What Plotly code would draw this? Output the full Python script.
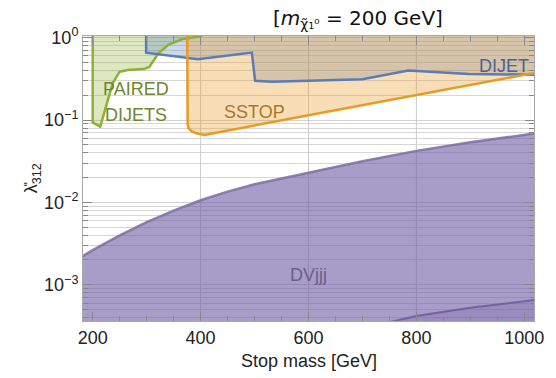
import math
import plotly.graph_objects as go

# ---------------- data (stop mass [GeV], lambda''_312) ----------------
dv_mass = [175, 182, 200, 250, 300, 350, 400, 450, 500, 600, 700, 800, 900, 1018, 1025]
dv_lam = [0.00209, 0.00224, 0.00263, 0.00398, 0.00575, 0.00794, 0.0106, 0.0135,
          0.0166, 0.0229, 0.0316, 0.0422, 0.0537, 0.0684, 0.0692]

dv2_mass = [740, 800, 900, 1025]
dv2_lam = [0.000339, 0.000417, 0.000525, 0.00066]

pd_mass = [200, 200, 214, 225, 237, 250, 265, 295, 305, 322, 340, 365, 400, 430]
pd_lam = [1.5, 0.093, 0.083, 0.146, 0.28, 0.386, 0.405, 0.415, 0.44, 0.65, 0.82, 0.955, 1.04, 1.5]

dj_mass = [299, 299, 395, 495, 501, 533, 700, 785, 897, 1025]
dj_lam = [1.5, 0.658, 0.547, 0.658, 0.30, 0.292, 0.313, 0.398, 0.363, 0.355]

ss_mass = [375, 375, 376, 378, 383, 392, 407, 600, 800, 1025]
ss_lam = [1.5, 0.105, 0.088, 0.079, 0.073, 0.069, 0.066, 0.114, 0.201, 0.38]

labels = ["PAIRED", "DIJETS", "SSTOP", "DIJET", "DVjjj"]
label_mass = [280, 281, 499, 962, 600]
label_lam = [0.238, 0.115, 0.126, 0.454, 0.00132]
label_color = ["#6e872d", "#6e872d", "#a87828", "#466496", "#695f8c"]

x_ticks = [200, 400, 600, 800, 1000]
x_grid = [400, 600, 800]
y_ticks = [1e-3, 1e-2, 1e-1, 1]
y_ticktext = ["10<sup>\u22123</sup>", "10<sup>\u22122</sup>", "10<sup>\u22121</sup>", "10<sup>0</sup>"]
y_minor = [m * 10.0 ** k for k in range(-4, 1) for m in range(2, 10)]

X_RANGE = [182, 1018]
Y_RANGE = [-3.44, 0.02]
LOW, HIGH = 1e-5, 1.5

fig = go.Figure()

# DVjjj (purple) fill + boundary
fig.add_trace(go.Scatter(x=dv_mass + [dv_mass[-1], dv_mass[0]], y=dv_lam + [LOW, LOW],
                         fill="toself", fillcolor="rgba(110,90,165,0.6)", line=dict(width=0),
                         mode="lines", hoverinfo="skip", showlegend=False))
fig.add_trace(go.Scatter(x=dv_mass, y=dv_lam, mode="lines",
                         line=dict(color="rgba(125,110,160,0.85)", width=2.5), showlegend=False))
fig.add_trace(go.Scatter(x=dv2_mass + [dv2_mass[-1], dv2_mass[0]], y=dv2_lam + [LOW, LOW],
                         fill="toself", fillcolor="rgba(110,90,165,0.25)", line=dict(width=0),
                         mode="lines", hoverinfo="skip", showlegend=False))
fig.add_trace(go.Scatter(x=dv2_mass, y=dv2_lam, mode="lines",
                         line=dict(color="rgba(110,95,150,0.9)", width=2), showlegend=False))

# fills for collider limits
def region(xs, ys, color):
    fig.add_trace(go.Scatter(x=xs + [xs[-1], xs[0]], y=ys + [HIGH, HIGH], fill="toself",
                             fillcolor=color, line=dict(width=0), mode="lines",
                             hoverinfo="skip", showlegend=False))

region(pd_mass, pd_lam, "rgba(143,176,50,0.3)")
region(dj_mass, dj_lam, "rgba(90,125,185,0.3)")
region(ss_mass, ss_lam, "rgba(232,155,35,0.33)")

for xs, ys, c in [(pd_mass, pd_lam, "#8fb032"), (dj_mass, dj_lam, "#5a7db9"), (ss_mass, ss_lam, "#e89b23")]:
    fig.add_trace(go.Scatter(x=xs, y=ys, mode="lines", line=dict(color=c, width=2.5),
                             showlegend=False))

for gx in x_grid:
    fig.add_shape(type="line", xref="x", yref="paper", x0=gx, x1=gx, y0=0, y1=1,
                  line=dict(color="rgba(190,190,190,0.8)", width=1), layer="below")

for t, mx, ly, c in zip(labels, label_mass, label_lam, label_color):
    fig.add_annotation(x=mx, y=math.log10(ly), text=t, showarrow=False,
                       font=dict(family="Liberation Sans", size=18, color=c))

fig.add_annotation(xref="paper", yref="paper", x=(18 - 83) / 460, y=0.5,
                   text="\u03bb\u030e<sub>312</sub>", textangle=-90, showarrow=False,
                   font=dict(family="Liberation Sans", size=18, color="#222"))
fig.add_annotation(xref="paper", yref="paper", x=0.5, y=(321 - 361) / 285,
                   text="Stop mass [GeV]", showarrow=False, yanchor="middle",
                   font=dict(family="Liberation Sans", size=18, color="#222"))
fig.add_annotation(xref="paper", yref="paper", x=(363 - 83) / 460, y=1 + (36 - 19) / 285,
                   text="[<i>m</i><sub>\u03c7\u0303\u2081\u2070</sub> = 200 GeV]", showarrow=False,
                   yanchor="middle", font=dict(family="DejaVu Sans", size=20, color="#111"))

axis_common = dict(showline=True, linecolor="#a8a8a8", linewidth=1, mirror="allticks",
                   ticks="inside", tickcolor="#888", tickwidth=1, zeroline=False,
                   tickfont=dict(family="Liberation Sans", size=18, color="#222"))

fig.update_xaxes(range=X_RANGE, tickvals=x_ticks, ticklen=9, showgrid=False,
                 minor=dict(dtick=50, ticks="inside", ticklen=5, tickcolor="#888", showgrid=False),
                 **axis_common)
fig.update_yaxes(type="log", range=Y_RANGE, tickvals=y_ticks, ticktext=y_ticktext, ticklen=9,
                 showgrid=True, gridcolor="rgba(200,200,200,0.8)", gridwidth=1,
                 minor=dict(tickmode="array", tickvals=y_minor, ticks="inside", ticklen=5,
                            tickcolor="#888", showgrid=True, gridcolor="rgba(205,205,205,0.8)",
                            gridwidth=1),
                 **axis_common)

fig.update_layout(width=556, height=378, margin=dict(l=83, r=13, t=36, b=57),
                  paper_bgcolor="white", plot_bgcolor="white", showlegend=False)

fig.write_html("out.html")
